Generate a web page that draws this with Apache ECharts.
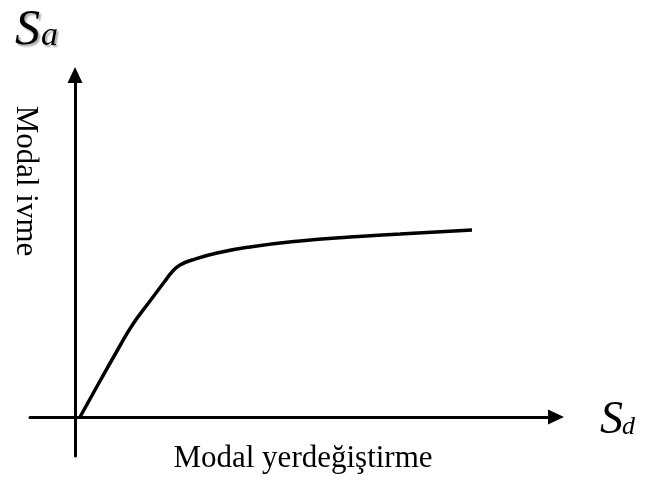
<!DOCTYPE html>
<html>
<head>
<meta charset="utf-8">
<script src="https://cdn.jsdelivr.net/npm/echarts@6/dist/echarts.min.js"></script>
<style>
  html, body { margin: 0; padding: 0; background: #fff; }
  #chart { width: 646px; height: 481px; }
</style>
</head>
<body>
<div id="chart"></div>
<script>
// kapasite egrisi, okunan noktalar (yatay: yerdegistirme, dusey: ivme)
const curveX = [5, 25, 42, 58, 75, 90, 97, 105, 117, 142, 175, 225, 275, 325, 397];
const curveY = [0, 36, 66, 93, 116, 136, 145, 152, 157, 164, 170, 176, 180, 183, 187];

const yLabel = "Modal ivme";
const xLabel = "Modal yerdeğiştirme";

const serif = "'Liberation Serif', 'DejaVu Serif', serif";

let chartDom = document.getElementById("chart");
let myChart = echarts.init(chartDom);

let _curveData = [];
for (let i = 0; i < curveX.length; i++) {
  _curveData.push([curveX[i], curveY[i]]);
}

let axisLineStyle = {
  show: true,
  onZero: true,
  symbol: ["none", "triangle"],
  symbolSize: [15, 16],
  lineStyle: { color: "#000", width: 3 },
};

// italik harf, yazi tabani (baseline) verilerek
function italicText(ch, left, baseline, size, shadow) {
  let style = {
    text: ch,
    fontFamily: serif,
    fontStyle: "italic",
    fontSize: size,
    fill: "#000",
    align: "left",
    verticalAlign: "middle",
  };
  if (shadow) {
    style.textShadowColor = "rgba(0,0,0,0.35)";
    style.textShadowOffsetX = 2;
    style.textShadowOffsetY = 2;
    style.textShadowBlur = 2;
  }
  return { type: "text", x: left, y: baseline - size * 0.3375, style: style };
}

myChart.setOption({
  animation: false,
  grid: { left: 30, right: 90, top: 75, bottom: 25 },
  xAxis: {
    type: "value",
    min: -45,
    max: 481,
    axisLine: axisLineStyle,
    axisTick: { show: false },
    axisLabel: { show: false },
    splitLine: { show: false },
  },
  yAxis: {
    type: "value",
    min: -39,
    max: 342,
    axisLine: axisLineStyle,
    axisTick: { show: false },
    axisLabel: { show: false },
    splitLine: { show: false },
  },
  series: [
    {
      type: "line",
      data: _curveData,
      smooth: 0.5,
      showSymbol: false,
      lineStyle: { color: "#000", width: 3.5 },
    },
  ],
  graphic: [
    italicText("S", 15, 48, 50, true),
    italicText("a", 41, 48, 34, true),
    italicText("S", 600, 436, 46, false),
    italicText("d", 622, 436, 26, false),
    {
      type: "text",
      x: 25,
      y: 181,
      rotation: -Math.PI / 2,
      style: {
        text: yLabel,
        fontFamily: serif,
        fontSize: 31,
        fill: "#000",
        align: "center",
        verticalAlign: "middle",
      },
    },
    {
      type: "text",
      x: 303,
      y: 459,
      style: {
        text: xLabel,
        fontFamily: serif,
        fontSize: 31,
        fill: "#000",
        align: "center",
        verticalAlign: "middle",
      },
    },
  ],
});
</script>
</body>
</html>
